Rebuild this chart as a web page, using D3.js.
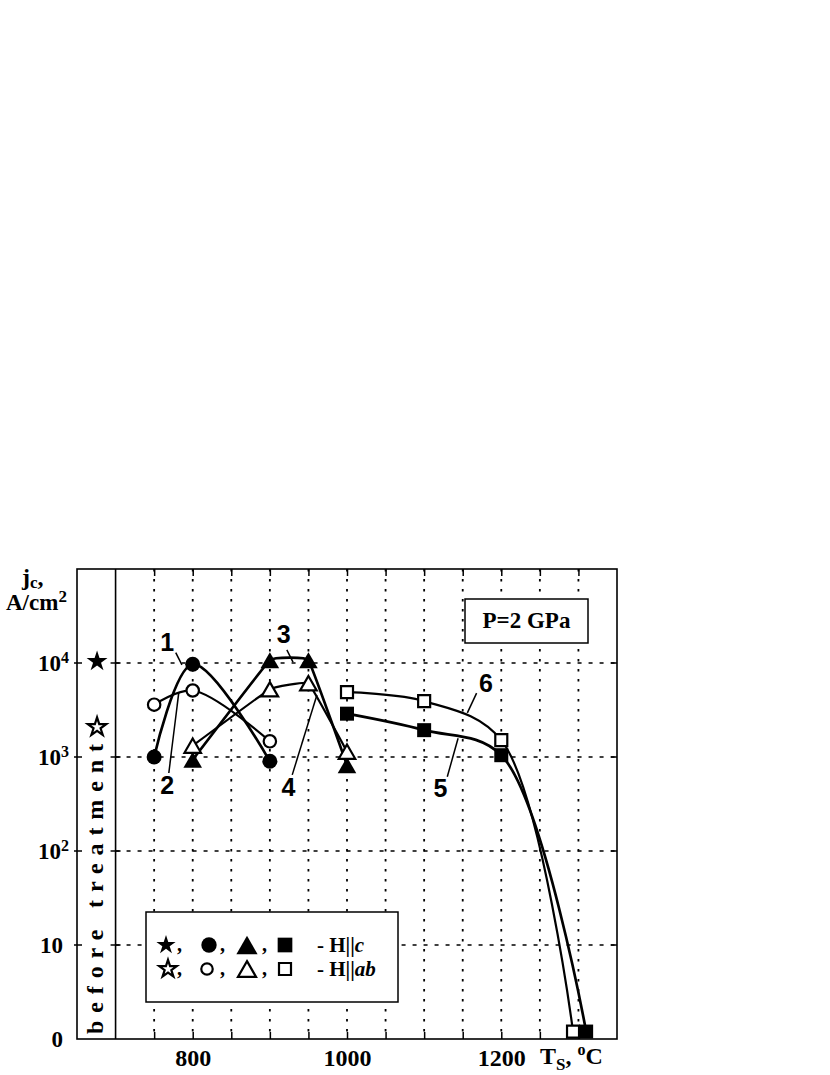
<!DOCTYPE html>
<meta charset="utf-8">
<title>jc vs Ts, P=2 GPa</title>
<style>
  body { margin: 0; background: #fff; }
  svg { display: block; }
  .serif { font-family: "Liberation Serif", "Times New Roman", serif; font-weight: bold; }
  .sans { font-family: "Liberation Sans", Arial, sans-serif; font-weight: bold; }
</style>
<body>
<svg width="830" height="1075"></svg>
<script src="https://d3js.org/d3.v7.min.js"></script>
<script>

// before treatment (stars), x position is just inside the left column
var beforeT = 676;
var beforeC = 10400;   // filled star, H||c
var beforeAb = 2080;   // open star, H||ab

// 1 - filled circles (H||c), 2 - open circles (H||ab)
var t1 = [750, 800, 900], j1 = [1000, 9700, 900];
var t2 = [750, 800, 900], j2 = [3600, 5100, 1470];
// 3 - filled triangles, 4 - open triangles
var t3 = [800, 900, 950, 1000], j3 = [935, 10700, 10700, 820];
var t4 = [800, 900, 950, 1000], j4 = [1320, 5260, 6100, 1140];
// 5 - filled squares, 6 - open squares
var t5 = [1000, 1100, 1200, 1310], j5 = [2890, 1930, 1045, 1.2];
var t6 = [1000, 1100, 1200, 1293], j6 = [4890, 3930, 1510, 1.2];

var tickT = d3.range(750, 1301, 50);
var labelT = [800, 1000, 1200];
var gridJ = [10, 100, 1000, 10000];
var yTicks = [1, 10, 100, 1000, 10000];
var yBase = ["0", "10", "10", "10", "10"];
var ySup = ["", "", "2", "3", "4"];

// curve numbers: label centre and leader line, in (T, log10 j)
var notes = [
  { n: "1", at: [767, 4.22], from: [778, 4.11], to: [786, 3.98] },
  { n: "2", at: [767, 2.70], from: [769, 2.83], to: [782, 3.69] },
  { n: "3", at: [918, 4.31], from: [922, 4.14], to: [930, 4.01] },
  { n: "4", at: [924, 2.68], from: [929, 2.81], to: [961, 3.66] },
  { n: "5", at: [1121, 2.67], from: [1130, 2.79], to: [1144, 3.20] },
  { n: "6", at: [1180, 3.79], from: [1168, 3.68], to: [1156, 3.47] }
];

var svg = d3.select("svg");

var x = d3.scaleLinear().domain([650, 1350]).range([77, 617]);
var y = d3.scaleLog().domain([1, 1e5]).range([1039, 569]);
var yTop = y(1e5), yBot = y(1), xLeft = x(650), xRight = x(1350), xInner = x(700);

// dotted grid
svg.append("g").selectAll("line")
  .data(tickT)
  .enter().append("line")
  .attr("x1", d => x(d)).attr("x2", d => x(d))
  .attr("y1", yTop).attr("y2", yBot)
  .attr("stroke", "#000").attr("stroke-width", 1.8)
  .attr("stroke-dasharray", "2.5,7.5");

svg.append("g").selectAll("line")
  .data(gridJ)
  .enter().append("line")
  .attr("x1", xInner).attr("x2", xRight)
  .attr("y1", d => y(d)).attr("y2", d => y(d))
  .attr("stroke", "#000").attr("stroke-width", 1.5)
  .attr("stroke-dasharray", "4,7");

// x axes: ticks on top and bottom, labels under
var xAxis = d3.axisBottom(x).tickValues(tickT).tickSize(-7).tickSizeOuter(0).tickPadding(10)
  .tickFormat(function (d) { return labelT.indexOf(d) >= 0 ? d : ""; });
var gx = svg.append("g").attr("transform", "translate(0," + yBot + ")").call(xAxis);
gx.select(".domain").remove();
gx.attr("font-family", null).attr("font-size", null).attr("class", "serif");
gx.selectAll("text").attr("font-size", 24).attr("fill", "#000");
gx.selectAll("line").attr("stroke-width", 1.5);

var gxt = svg.append("g").attr("transform", "translate(0," + yTop + ")")
  .call(d3.axisTop(x).tickValues(tickT).tickSize(-7).tickSizeOuter(0).tickFormat(""));
gxt.select(".domain").remove();
gxt.selectAll("line").attr("stroke-width", 1.5);

// y ticks crossing the frame and the inner line, inward on the right
var yt = svg.append("g").attr("stroke", "#000").attr("stroke-width", 1.5);
gridJ.forEach(function (d) {
  yt.append("line").attr("x1", xLeft - 3).attr("x2", xLeft + 5).attr("y1", y(d)).attr("y2", y(d));
  yt.append("line").attr("x1", xInner - 5).attr("x2", xInner + 5).attr("y1", y(d)).attr("y2", y(d));
  yt.append("line").attr("x1", xRight - 6).attr("x2", xRight).attr("y1", y(d)).attr("y2", y(d));
});

// frame
svg.append("rect")
  .attr("x", xLeft).attr("y", yTop)
  .attr("width", xRight - xLeft).attr("height", yBot - yTop)
  .attr("fill", "none").attr("stroke", "#000").attr("stroke-width", 1.6);
svg.append("line")
  .attr("x1", xInner).attr("x2", xInner).attr("y1", yTop).attr("y2", yBot)
  .attr("stroke", "#000").attr("stroke-width", 1.6);

// y labels
var yl = svg.append("g").attr("class", "serif").attr("font-size", 23);
yTicks.forEach(function (d, i) {
  var t = yl.append("text")
    .attr("x", ySup[i] ? 69 : 63)
    .attr("y", y(d) + 8)
    .attr("text-anchor", "end")
    .text(yBase[i]);
  if (ySup[i]) {
    t.append("tspan").attr("font-size", 16).attr("dy", -8).text(ySup[i]);
  }
});

// axis titles
var jt = svg.append("text").attr("class", "serif").attr("font-size", 24).attr("x", 22).attr("y", 585).text("j");
jt.append("tspan").attr("font-size", 17).attr("dy", 3).text("c");
jt.append("tspan").attr("dy", -3).text(",");
var at = svg.append("text").attr("class", "serif").attr("font-size", 23).attr("x", 6).attr("y", 610).text("A/cm");
at.append("tspan").attr("font-size", 17).attr("dy", -8).text("2");

var tt = svg.append("text").attr("class", "serif").attr("font-size", 24).attr("x", 540).attr("y", 1064).text("T");
tt.append("tspan").attr("font-size", 17).attr("dy", 6).text("S");
tt.append("tspan").attr("dy", -6).text(", ");
tt.append("tspan").attr("font-size", 16).attr("dy", -9).text("o");
tt.append("tspan").attr("dy", 9).text("C");

svg.append("text")
  .attr("class", "serif")
  .attr("font-size", 24)
  .attr("transform", "translate(103,1034) rotate(-90)")
  .attr("textLength", 290)
  .attr("lengthAdjust", "spacing")
  .text("before treatment");

// P box
svg.append("rect").attr("x", 465).attr("y", 599).attr("width", 123).attr("height", 44)
  .attr("fill", "#fff").attr("stroke", "#000").attr("stroke-width", 1.5);
svg.append("text").attr("class", "serif").attr("font-size", 23)
  .attr("x", 526.5).attr("y", 628).attr("text-anchor", "middle").text("P=2 GPa");

// marker drawing
var sym = {
  star: d3.symbolStar, circle: d3.symbolCircle,
  triangle: d3.symbolTriangle, square: d3.symbolSquare
};
var sizes = {
  star: [135, 105], circle: [177, 121],
  triangle: [150, 118], square: [196, 144]
};
function marker(g, shape, filled, cx, cy, scale) {
  var s = sizes[shape][filled ? 0 : 1] * (scale || 1);
  var dy = 0;
  if (shape === "triangle") dy = Math.sqrt(s / (Math.sqrt(3) * 3)) / 2;
  g.append("path")
    .attr("d", d3.symbol().type(sym[shape]).size(s)())
    .attr("transform", "translate(" + cx + "," + (cy + dy) + ")")
    .attr("fill", filled ? "#000" : "#fff")
    .attr("stroke", "#000")
    .attr("stroke-width", filled ? 0 : 2.2)
    .attr("stroke-linejoin", "miter");
}

var smooth = d3.curveCatmullRom.alpha(0.5);
var stiff = d3.curveCardinal.tension(0.8);
var series = [
  { T: t1, J: j1, shape: "circle", filled: true, curve: smooth },
  { T: t2, J: j2, shape: "circle", filled: false, curve: smooth },
  { T: t3, J: j3, shape: "triangle", filled: true, curve: stiff },
  { T: t4, J: j4, shape: "triangle", filled: false, curve: stiff },
  { T: t5, J: j5, shape: "square", filled: true, curve: smooth },
  { T: t6, J: j6, shape: "square", filled: false, curve: smooth }
];

svg.append("g").selectAll("path")
  .data(series)
  .enter().append("path")
  .attr("d", function (s) {
    var line = d3.line()
      .x(function (d) { return x(d[0]); })
      .y(function (d) { return y(d[1]); })
      .curve(s.curve);
    return line(s.T.map(function (t, i) { return [t, s.J[i]]; }));
  })
  .attr("fill", "none")
  .attr("stroke", "#000")
  .attr("stroke-width", function (s) { return s.filled ? 2.7 : 2.2; });

var gm = svg.append("g");
// filled first so open markers sit on top where they touch
series.filter(s => s.filled).concat(series.filter(s => !s.filled)).forEach(function (s) {
  s.T.forEach(function (t, i) { marker(gm, s.shape, s.filled, x(t), y(s.J[i])); });
});
marker(gm, "star", true, x(beforeT), y(beforeC));
marker(gm, "star", false, x(beforeT), y(beforeAb));

// curve numbers with leader lines
var gn = svg.append("g");
notes.forEach(function (d) {
  gn.append("line")
    .attr("x1", x(d.from[0])).attr("y1", y(Math.pow(10, d.from[1])))
    .attr("x2", x(d.to[0])).attr("y2", y(Math.pow(10, d.to[1])))
    .attr("stroke", "#000").attr("stroke-width", 1.5);
  gn.append("text").attr("class", "sans").attr("font-size", 25)
    .attr("x", x(d.at[0])).attr("y", y(Math.pow(10, d.at[1])))
    .attr("dy", "0.36em").attr("text-anchor", "middle")
    .text(d.n);
});

// legend
var lg = svg.append("g");
lg.append("rect").attr("x", 146).attr("y", 912).attr("width", 252).attr("height", 90)
  .attr("fill", "#fff").attr("stroke", "#000").attr("stroke-width", 1.5);
var rows = [{ filled: true, cy: 945, txt: "c" }, { filled: false, cy: 969, txt: "ab" }];
rows.forEach(function (r) {
  marker(lg, "star", r.filled, r.filled ? 166 : 168, r.cy, r.filled ? 0.85 : 0.9);
  marker(lg, "circle", r.filled, r.filled ? 209 : 207, r.cy, r.filled ? 1.05 : 0.85);
  marker(lg, "triangle", r.filled, 247, r.cy, r.filled ? 1.3 : 1.2);
  marker(lg, "square", r.filled, 285, r.cy, r.filled ? 1.1 : 1.0);
  [177, 220, 262].forEach(function (cx) {
    lg.append("text").attr("class", "serif").attr("font-size", 20)
      .attr("x", cx).attr("y", r.cy + 6).text(",");
  });
  var t = lg.append("text").attr("class", "serif").attr("font-size", 21)
    .attr("x", 317).attr("y", r.cy + 7).text("- H||");
  t.append("tspan").attr("font-style", "italic").text(r.txt);
});

</script>
</body>
